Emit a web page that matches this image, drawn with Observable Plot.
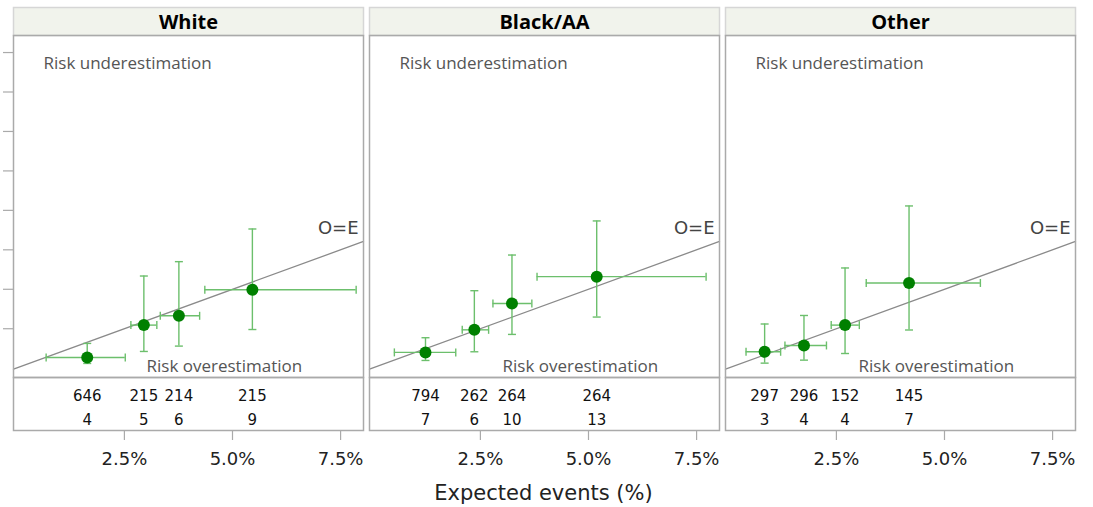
<!DOCTYPE html>
<html>
<head>
<meta charset="utf-8">
<script src="https://cdn.jsdelivr.net/npm/d3@7"></script>
<script src="https://cdn.jsdelivr.net/npm/@observablehq/plot@0.6"></script>
<style>
  html, body { margin: 0; padding: 0; background: #fff; }
  #chart { position: relative; width: 1093px; height: 507px; font-family: "Open Sans", "Noto Sans", sans-serif; }
  #chart > svg, #chart > .lbl { position: absolute; left: 0; }
  #header { top: 6px; }
  #main { top: 34px; }
  #table { top: 376px; }
  #xlabel { top: 478px; width: 1093px; text-align: center; font-family: "DejaVu Sans", sans-serif; font-size: 21px; line-height: 30px; color: #222; padding-right: 6px; box-sizing: border-box; }
</style>
</head>
<body>
<div id="chart"></div>
<script>
// Calibration by race group: expected vs observed event rates (%), with 95% intervals
const groups = ["White", "Black/AA", "Other"];
const group = ["White", "White", "White", "White",
               "Black/AA", "Black/AA", "Black/AA", "Black/AA",
               "Other", "Other", "Other", "Other"];
const expected   = [1.64, 2.95, 3.76, 5.46,  1.23, 2.36, 3.23, 5.19,  0.84, 1.75, 2.70, 4.18];
const expectedLo = [0.69, 2.65, 3.33, 4.36,  0.51, 2.08, 2.79, 3.81,  0.41, 1.31, 2.38, 3.19];
const expectedHi = [2.52, 3.25, 4.24, 7.86,  1.93, 2.69, 3.69, 7.72,  1.21, 2.27, 3.03, 5.83];
const observed   = [0.68, 2.73, 3.32, 4.97,  1.00, 2.43, 4.10, 5.80,  1.04, 1.44, 2.73, 5.40];
const observedLo = [0.30, 1.06, 1.40, 2.45,  0.49, 1.04, 2.14, 3.24,  0.32, 0.51, 0.93, 2.42];
const observedHi = [1.57, 5.84, 6.75, 8.82,  1.93, 4.91, 7.17, 9.33,  2.80, 3.34, 6.35, 10.28];
const nPatients  = [646, 215, 214, 215,  794, 262, 264, 264,  297, 296, 152, 145];
const nEvents    = [4, 5, 6, 9,  7, 6, 10, 13,  3, 4, 4, 7];
const xTicks = [2.5, 5.0, 7.5];
const yTicks = [2.5, 5, 7.5, 10, 12.5, 15, 17.5, 20];
const tableRows = ["N", "Events"];

const xDomain = [-0.065, 8.03];
const yDomain = [-0.59, 21.08];

const rows = group.map((g, i) => ({
  group: g,
  expected: expected[i], expectedLo: expectedLo[i], expectedHi: expectedHi[i],
  observed: observed[i], observedLo: observedLo[i], observedHi: observedHi[i],
  n: nPatients[i], events: nEvents[i]
}));

const W = 1093;
const marginLeft = 12, marginRight = 17;
const fxOpts = {domain: groups, paddingInner: 18 / 1070, paddingOuter: 0, axis: null};
const green = "#008000", barGreen = "#6cbf6c";
const font = "'Open Sans', 'Noto Sans', sans-serif";
const numFont = "'DejaVu Sans', sans-serif";
const baseStyle = {fontFamily: font, background: "transparent", overflow: "visible"};

// short cap segments for the interval whiskers
const hCap = {draw(ctx) { ctx.moveTo(-4, 0); ctx.lineTo(4, 0); }};
const vCap = {draw(ctx) { ctx.moveTo(0, -4); ctx.lineTo(0, 4); }};

// facet strip headers
const header = Plot.plot({
  width: W, height: 30,
  marginLeft, marginRight, marginTop: 1, marginBottom: 1,
  fx: fxOpts,
  style: {...baseStyle, fontSize: "20px"},
  marks: [
    Plot.frame({fill: "#f1f3ec", stroke: "#d6d6d6", strokeWidth: 1.5}),
    Plot.text(groups, {fx: d => d, text: d => d, frameAnchor: "middle", fontWeight: "bold", fontSize: 20, fill: "#000", dy: 1})
  ]
});
header.id = "header";

// calibration panels
const oe = xDomain;
const main = Plot.plot({
  width: W, height: 344,
  marginLeft, marginRight, marginTop: 1, marginBottom: 1,
  fx: fxOpts,
  x: {domain: xDomain, axis: null},
  y: {domain: yDomain, axis: null},
  style: {...baseStyle, fontSize: "17px"},
  marks: [
    Plot.axisY({ticks: yTicks, tickSize: 10, tickFormat: () => "", stroke: "#aaa", strokeWidth: 1.2, label: null}),
    Plot.line(oe, {x: d => d, y: d => d, stroke: "#8a8a8a", strokeWidth: 1.3}),
    Plot.text(["O=E"], {x: oe[1], y: oe[1], text: d => d, textAnchor: "end", dx: -5, dy: -13, fontSize: 18, fontFamily: numFont, fill: "#444"}),
    Plot.text(["Risk underestimation"], {frameAnchor: "top-left", text: d => d, dx: 30, dy: 28, lineAnchor: "middle", fontSize: 17, fill: "#555"}),
    Plot.text(["Risk overestimation"], {frameAnchor: "bottom-left", text: d => d, dx: 133, dy: -11, lineAnchor: "middle", fontSize: 17, fill: "#555"}),
    Plot.ruleX(rows, {fx: "group", x: "expected", y1: "observedLo", y2: "observedHi", stroke: barGreen, strokeWidth: 1.4}),
    Plot.ruleY(rows, {fx: "group", y: "observed", x1: "expectedLo", x2: "expectedHi", stroke: barGreen, strokeWidth: 1.4}),
    Plot.dot(rows, {fx: "group", x: "expected", y: "observedLo", symbol: hCap, stroke: barGreen, strokeWidth: 1.4, fill: "none"}),
    Plot.dot(rows, {fx: "group", x: "expected", y: "observedHi", symbol: hCap, stroke: barGreen, strokeWidth: 1.4, fill: "none"}),
    Plot.dot(rows, {fx: "group", x: "expectedLo", y: "observed", symbol: vCap, stroke: barGreen, strokeWidth: 1.4, fill: "none"}),
    Plot.dot(rows, {fx: "group", x: "expectedHi", y: "observed", symbol: vCap, stroke: barGreen, strokeWidth: 1.4, fill: "none"}),
    Plot.dot(rows, {fx: "group", x: "expected", y: "observed", r: 6, fill: green, stroke: "none"}),
    Plot.frame({stroke: "#aaa", strokeWidth: 1.5})
  ]
});
main.id = "main";

// counts table under each panel, plus the shared x axis
const tableData = rows.flatMap(d => [
  {group: d.group, expected: d.expected, row: "N", value: d.n},
  {group: d.group, expected: d.expected, row: "Events", value: d.events}
]);
const table = Plot.plot({
  width: W, height: 131,
  marginLeft, marginRight, marginTop: 1, marginBottom: 77,
  fx: fxOpts,
  x: {domain: xDomain, axis: null},
  y: {type: "point", domain: tableRows, range: [20, 44], padding: 0, axis: null},
  style: {...baseStyle, fontFamily: numFont, fontSize: "18px"},
  marks: [
    Plot.text(tableData, {fx: "group", x: "expected", y: "row", text: d => String(d.value), fontSize: 15, fill: "#111"}),
    Plot.frame({stroke: "#aaa", strokeWidth: 1.5}),
    Plot.axisX({ticks: xTicks, tickSize: 10, tickPadding: 12, tickFormat: d => d.toFixed(1) + "%", stroke: "#aaa", strokeWidth: 1.2, fill: "#222", fontSize: 18, label: null})
  ]
});
table.id = "table";

const chart = document.getElementById("chart");
chart.append(header, main, table);
const xl = document.createElement("div");
xl.id = "xlabel";
xl.className = "lbl";
xl.textContent = "Expected events (%)";
chart.append(xl);
</script>
</body>
</html>
